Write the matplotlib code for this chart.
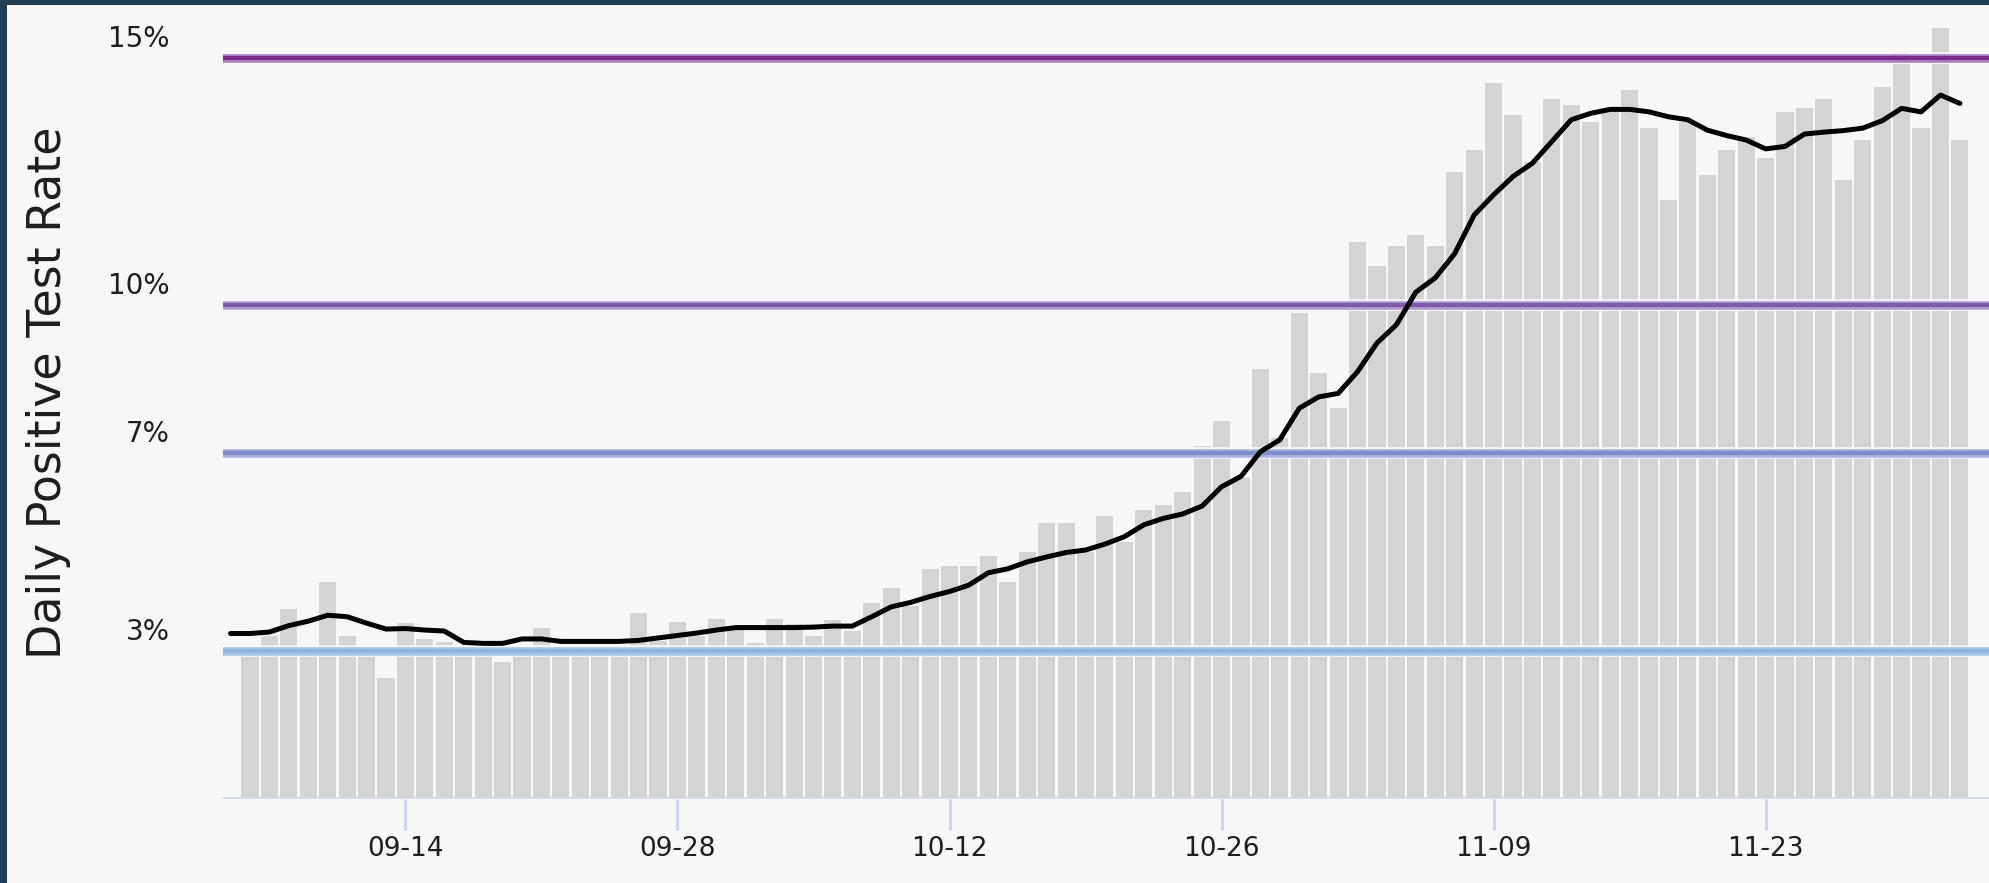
import numpy as np
import pandas as pd
import matplotlib
matplotlib.use("Agg")
import matplotlib.pyplot as plt
import matplotlib.dates as mdates
from matplotlib.patches import Rectangle

# daily positive test rate (%), one bar per day starting 2020-09-06
bar_start = "2020-09-06"
daily_rate = [
    2.98, 3.29, 3.85, 3.00, 4.40, 3.29, 3.00, 2.44, 3.56, 3.24,
    3.18, 2.95, 2.95, 2.78, 3.08, 3.46, 2.98, 2.98, 2.98, 2.98,
    3.77, 3.20, 3.59, 3.30, 3.64, 3.45, 3.16, 3.64, 3.55, 3.30,
    3.62, 3.40, 3.97, 4.28, 3.90, 4.66, 4.72, 4.72, 4.92, 4.40,
    5.00, 5.58, 5.58, 5.00, 5.72, 5.20, 5.85, 5.95, 6.22, 7.15,
    7.65, 6.50, 8.70, 7.30, 9.84, 8.63, 7.91, 11.28, 10.78, 11.19,
    11.42, 11.19, 12.70, 13.14, 14.49, 13.85, 12.90, 14.18, 14.05, 13.70,
    13.90, 14.35, 13.58, 12.13, 13.70, 12.63, 13.14, 13.40, 12.97, 13.90,
    13.98, 14.18, 12.53, 13.34, 14.42, 15.13, 13.58, 15.60, 13.34,
]

# rolling average line (%), starting one day earlier
line_start = "2020-09-05"
avg_rate = [
    3.35, 3.35, 3.38, 3.51, 3.60, 3.72, 3.69, 3.56, 3.44, 3.45,
    3.42, 3.40, 3.17, 3.15, 3.15, 3.24, 3.24, 3.19, 3.19, 3.19,
    3.19, 3.21, 3.26, 3.31, 3.36, 3.42, 3.47, 3.47, 3.47, 3.47,
    3.48, 3.50, 3.50, 3.69, 3.89, 3.98, 4.10, 4.20, 4.33, 4.58,
    4.66, 4.80, 4.90, 4.99, 5.04, 5.16, 5.31, 5.55, 5.68, 5.77,
    5.93, 6.32, 6.53, 7.03, 7.27, 7.91, 8.14, 8.21, 8.65, 9.23,
    9.60, 10.26, 10.55, 11.04, 11.82, 12.23, 12.60, 12.87, 13.31, 13.75,
    13.88, 13.96, 13.96, 13.91, 13.81, 13.75, 13.54, 13.43, 13.34, 13.16,
    13.21, 13.46, 13.50, 13.53, 13.58, 13.73, 13.98, 13.91, 14.25, 14.08,
]

# threshold lines
thresholds = [15, 10, 7, 3]
threshold_labels = ["15%", "10%", "7%", "3%"]
threshold_core = ["#7a2a8c", "#7f5aa8", "#7f8cc8", "#8fb3dd"]
threshold_light = ["#ab80c2", "#b39bd2", "#aab3de", "#a9c6e7"]

tick_dates = ["2020-09-14", "2020-09-28", "2020-10-12", "2020-10-26", "2020-11-09", "2020-11-23"]

bar_dates = pd.date_range(bar_start, periods=len(daily_rate))
line_dates = pd.date_range(line_start, periods=len(avg_rate))

W, H = 1990, 883
fig = plt.figure(figsize=(W / 100, H / 100), dpi=100, facecolor="#1f3d55")
fig.patches.append(Rectangle((7 / W, 0), 1, (H - 5) / H, transform=fig.transFigure,
                             facecolor="#f7f7f7", edgecolor="none", zorder=-10))

ax = fig.add_axes([223 / W, (H - 799) / H, 1 - 223 / W, (799 - 10) / H])
ax.set_facecolor("none")
ax.set_zorder(5)

ax.bar(bar_dates, daily_rate, width=0.88, color="#d4d4d4", edgecolor="none", zorder=1)

# baseline
ax.axhline(0, color="#d5dcef", lw=3.6, zorder=2)

for v, lab, c1, c2 in zip(thresholds, threshold_labels, threshold_core, threshold_light):
    ax.axhline(v, color="#fbfbfb", lw=8.5, zorder=2, alpha=0.8)
    ax.axhline(v, color=c2, lw=6.2, zorder=3)
    ax.axhline(v, color=c1, lw=3.0, zorder=4)
    ax.annotate(lab, xy=(0, v), xycoords=("axes fraction", "data"),
                xytext=(-53, 19), textcoords="offset pixels",
                ha="right", va="center", fontsize=20, color="#1e1e1e",
                annotation_clip=False)

ax.plot(line_dates, avg_rate, color="black", lw=3.6, solid_joinstyle="round",
        solid_capstyle="round", zorder=5)

x0 = mdates.date2num(pd.Timestamp(bar_start))
ax.set_xlim(x0 - 1.39, x0 + 89.55)
ax.set_ylim(0, (799 - 10) / 49.4)

for s in ax.spines.values():
    s.set_visible(False)
ax.set_yticks([])
ax.set_xticks(pd.to_datetime(tick_dates))
ax.xaxis.set_major_formatter(mdates.DateFormatter("%m-%d"))
ax.tick_params(axis="x", length=22, width=2, color="#c9d4ee", pad=5,
               labelsize=19, labelcolor="#1e1e1e")

fig.text(49 / W, (H - 393) / H, "Daily Positive Test Rate", rotation=90,
         ha="center", va="center", fontsize=33, color="#1e1e1e")

fig.savefig("out.png", dpi=100, facecolor=fig.get_facecolor())
